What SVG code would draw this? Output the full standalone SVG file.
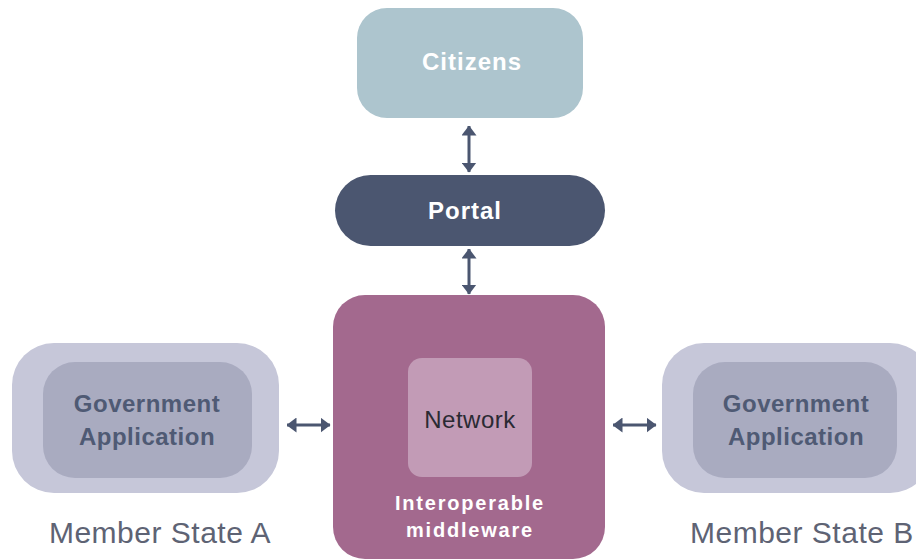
<svg xmlns="http://www.w3.org/2000/svg" width="916" height="560" viewBox="0 0 916 560">
<style>
.b{font-family:"Liberation Sans",Arial,sans-serif;font-weight:bold;text-anchor:middle}
.w{fill:#ffffff}
.g{fill:#4f5a74;font-size:24px;letter-spacing:0.5px}
.ms{font-family:"Liberation Sans",Arial,sans-serif;font-size:30px;fill:#5e6374;letter-spacing:0.5px}
</style>
<defs>
<marker id="ah" viewBox="0 0 10 15" refX="9.5" refY="7.5" markerWidth="10" markerHeight="15" orient="auto-start-reverse" markerUnits="userSpaceOnUse">
<path d="M0,0 L10,7.5 L0,15 Z" fill="#4b5670"/>
</marker>
</defs>
<rect width="916" height="560" fill="#ffffff"/>
<g id="citizens">
<rect x="357" y="8" width="226" height="110" rx="30" fill="#adc5ce"/>
<text class="b w" x="472" y="70" font-size="24" letter-spacing="1">Citizens</text>
</g>
<g id="portal">
<rect x="335" y="175" width="270" height="71" rx="35.5" fill="#4b5670"/>
<text class="b w" x="465" y="219" font-size="24" letter-spacing="1">Portal</text>
</g>
<g id="middleware">
<rect x="333" y="295" width="272" height="264" rx="32" fill="#a3698e"/>
<text class="b w" x="470" y="510" font-size="20" letter-spacing="1.8">Interoperable</text>
<text class="b w" x="470" y="537" font-size="20" letter-spacing="1.8">middleware</text>
</g>
<g id="network">
<rect x="408" y="358" width="124" height="119" rx="14" fill="#c29bb6"/>
<text x="470" y="428" font-family="Liberation Sans,Arial,sans-serif" font-size="24" fill="#2a2a33" text-anchor="middle" letter-spacing="0.5">Network</text>
</g>
<g id="member-state-a">
<rect x="12" y="343" width="267" height="150" rx="42" fill="#c6c7d9"/>
<rect x="43" y="362" width="209" height="116" rx="32" fill="#a9abc0"/>
<text class="b g" x="147" y="412">Government</text>
<text class="b g" x="147" y="445">Application</text>
<text class="ms" x="160" y="543" text-anchor="middle">Member State A</text>
</g>
<g id="member-state-b">
<rect x="662" y="343" width="270" height="150" rx="42" fill="#c6c7d9"/>
<rect x="693" y="362" width="204" height="116" rx="32" fill="#a9abc0"/>
<text class="b g" x="796" y="412">Government</text>
<text class="b g" x="796" y="445">Application</text>
<text class="ms" x="690" y="543">Member State B</text>
</g>
<g id="connectors" stroke="#4b5670" stroke-width="3" fill="none">
<line x1="469" y1="126" x2="469" y2="172" marker-start="url(#ah)" marker-end="url(#ah)"/>
<line x1="469" y1="249" x2="469" y2="294" marker-start="url(#ah)" marker-end="url(#ah)"/>
<line x1="287" y1="425" x2="330" y2="425" marker-start="url(#ah)" marker-end="url(#ah)"/>
<line x1="613" y1="425" x2="656" y2="425" marker-start="url(#ah)" marker-end="url(#ah)"/>
</g>
</svg>
